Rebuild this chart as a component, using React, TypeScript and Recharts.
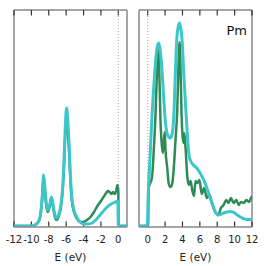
import React from 'react';
import { LineChart, Line, XAxis, YAxis, ReferenceLine, Label } from 'recharts';

// Left panel (occupied states), energy in eV
const leftCyanE = [-12, -10, -9.6, -9.2, -9.0, -8.85, -8.72, -8.6, -8.45, -8.3, -8.1, -7.9, -7.7, -7.5, -7.3, -7.1, -6.8, -6.6, -6.4, -6.25, -6.1, -5.95, -5.8, -5.65, -5.5, -5.35, -5.1, -4.8, -4.4, -4, -3.5, -3, -2.6, -2.2, -1.8, -1.4, -1, -0.6, -0.3, -0.05, 0.0, 1];
const leftCyanV = [1, 1, 2, 5, 10, 20, 35, 52, 40, 25, 17, 22, 30, 22, 12, 9, 14, 22, 40, 65, 100, 119, 105, 80, 50, 30, 17, 10, 5, 3, 3, 4, 7, 11, 15, 19, 22, 24, 25, 26, 1, 1];
const leftGreenE = [-12, -10, -9.6, -9.2, -9.0, -8.85, -8.72, -8.6, -8.45, -8.3, -8.1, -7.9, -7.7, -7.5, -7.3, -7.1, -6.8, -6.6, -6.4, -6.25, -6.1, -5.95, -5.8, -5.65, -5.5, -5.35, -5.1, -4.8, -4.4, -4, -3.6, -3.2, -2.8, -2.4, -2.0, -1.7, -1.4, -1.2, -1.0, -0.8, -0.6, -0.4, -0.25, -0.1, 0.0, 0.03, 1];
const leftGreenV = [1, 1, 2, 5, 10, 19, 33, 50, 37, 22, 15, 20, 28, 20, 10, 7, 12, 20, 37, 60, 92, 108, 95, 72, 45, 27, 15, 9, 5, 5, 7, 10, 15, 21, 26, 30, 34, 36, 35, 33, 35, 33, 36, 42, 36, 1, 1];

// Right panel (unoccupied states)
const rightCyanE = [-1, -0.1, -0.02, 0.05, 0.15, 0.3, 0.5, 0.7, 0.9, 1.1, 1.27, 1.45, 1.66, 1.85, 2.05, 2.3, 2.63, 2.85, 3.0, 3.15, 3.32, 3.5, 3.67, 3.85, 3.98, 4.17, 4.37, 4.55, 4.75, 5.0, 5.25, 5.64, 6.03, 6.6, 7.0, 7.38, 7.76, 8.15, 8.5, 8.73, 9.1, 9.5, 9.8, 10.08, 10.4, 10.66, 11.0, 11.24, 11.6, 12];
const rightCyanV = [1, 1, 5, 30, 50, 75, 112, 140, 165, 180, 184, 176, 155, 128, 104, 92, 89, 95, 110, 145, 184, 200, 204, 196, 184, 150, 120, 94, 72, 65, 62, 59, 54, 44, 34, 24, 15.5, 12, 13, 14, 15, 15.5, 15, 13.5, 11.5, 10, 8.5, 7.7, 7.5, 7.7];
const rightGreenE = [-1, 0.05, 0.1, 0.3, 0.5, 0.7, 0.89, 1.05, 1.22, 1.35, 1.47, 1.58, 1.74, 1.85, 1.97, 2.05, 2.24, 2.43, 2.63, 2.82, 3.01, 3.2, 3.4, 3.55, 3.67, 3.8, 3.9, 3.98, 4.1, 4.21, 4.37, 4.56, 4.75, 4.94, 5.14, 5.33, 5.5, 5.72, 5.95, 6.22, 6.49, 6.8, 7.1, 7.38, 7.76, 8.15, 8.42, 8.73, 9.04, 9.3, 9.57, 9.88, 10.2, 10.47, 10.74, 11.05, 11.36, 11.63, 11.94, 12];
const rightGreenV = [1, 1, 38, 44, 50, 77, 110, 150, 179, 150, 107, 87, 74, 85, 95, 77, 60, 43, 40, 43, 60, 87, 117, 165, 185, 150, 112, 95, 84, 94, 77, 50, 42, 46, 36, 31, 46, 44, 47, 33, 39, 29, 32, 25, 15, 12, 19, 22, 27, 24, 29, 24, 27, 22, 25, 24, 27, 25, 30, 31];

const leftTicks = [-12, -10, -8, -6, -4, -2, 0];
const rightTicks = [0, 2, 4, 6, 8, 10, 12];
const leftDomain = [-12, 1];
const rightDomain = [-1, 12];
const yDomain = [0, 217];
const tickLen = 5.5;
const xLabel = 'E (eV)';
const elementLabel = 'Pm';

const GREEN = '#2e8b57';
const CYAN = '#3cc6ca';
const FRAME = '#888';
const TICK = '#333';
const FONT = 'DejaVu Sans';

const toRows = (e: number[], v: number[]) => e.map((x, i) => ({ e: x, v: v[i] }));

function Panel({ left, right, domain, ticks, cyan, green }: any) {
  const [x0, x1] = domain;
  const [y0, y1] = yDomain;
  return (
    <LineChart
      width={266}
      height={266}
      style={{ position: 'absolute', left: 0, top: 0 }}
      margin={{ top: 10, left: left, right: right, bottom: 9 }}
    >
      <XAxis
        dataKey="e"
        type="number"
        domain={domain}
        ticks={ticks}
        interval={0}
        allowDataOverflow
        height={30}
        tickSize={0}
        tickMargin={9}
        axisLine={{ stroke: FRAME, strokeWidth: 1.5 }}
        tickLine={false}
        tick={{ fill: '#222', fontSize: 10, fontFamily: FONT }}
      >
        <Label value={xLabel} position="insideBottom" offset={-4} style={{ fill: '#222', fontSize: 10.5, fontFamily: FONT }} />
      </XAxis>
      <YAxis type="number" domain={yDomain} hide allowDataOverflow />
      {/* frame */}
      <ReferenceLine x={x0} stroke={FRAME} strokeWidth={1.5} ifOverflow="visible" />
      <ReferenceLine x={x1} stroke={FRAME} strokeWidth={1.5} ifOverflow="visible" />
      <ReferenceLine y={y1} stroke={FRAME} strokeWidth={1.5} ifOverflow="visible" />
      {/* inward tick marks, top and bottom */}
      {ticks.map((t: number) => (
        <ReferenceLine key={'b' + t} segment={[{ x: t, y: y0 }, { x: t, y: y0 + tickLen }]} stroke={TICK} strokeWidth={1.2} ifOverflow="visible" />
      ))}
      {ticks.map((t: number) => (
        <ReferenceLine key={'t' + t} segment={[{ x: t, y: y1 - tickLen }, { x: t, y: y1 }]} stroke={TICK} strokeWidth={1.2} ifOverflow="visible" />
      ))}
      <ReferenceLine x={0} stroke="#aaa" strokeWidth={1} strokeDasharray="1 2" ifOverflow="visible" />
      <Line data={green} dataKey="v" type="monotone" stroke={GREEN} strokeWidth={2.5} dot={false} isAnimationActive={false} />
      <Line data={cyan} dataKey="v" type="monotone" stroke={CYAN} strokeWidth={3} dot={false} isAnimationActive={false} />
    </LineChart>
  );
}

export default function App() {
  return (
    <div style={{ position: 'absolute', left: 0, top: 0, width: 266, height: 266, background: '#fff', fontFamily: FONT }}>
      <Panel left={14} right={139} domain={leftDomain} ticks={leftTicks} cyan={toRows(leftCyanE, leftCyanV)} green={toRows(leftGreenE, leftGreenV)} />
      <Panel left={139} right={14} domain={rightDomain} ticks={rightTicks} cyan={toRows(rightCyanE, rightCyanV)} green={toRows(rightGreenE, rightGreenV)} />
      <div style={{ position: 'absolute', left: 0, top: 24, width: 247, textAlign: 'right', fontSize: 13, lineHeight: '13px', color: '#111', fontFamily: FONT }}>
        {elementLabel}
      </div>
    </div>
  );
}
